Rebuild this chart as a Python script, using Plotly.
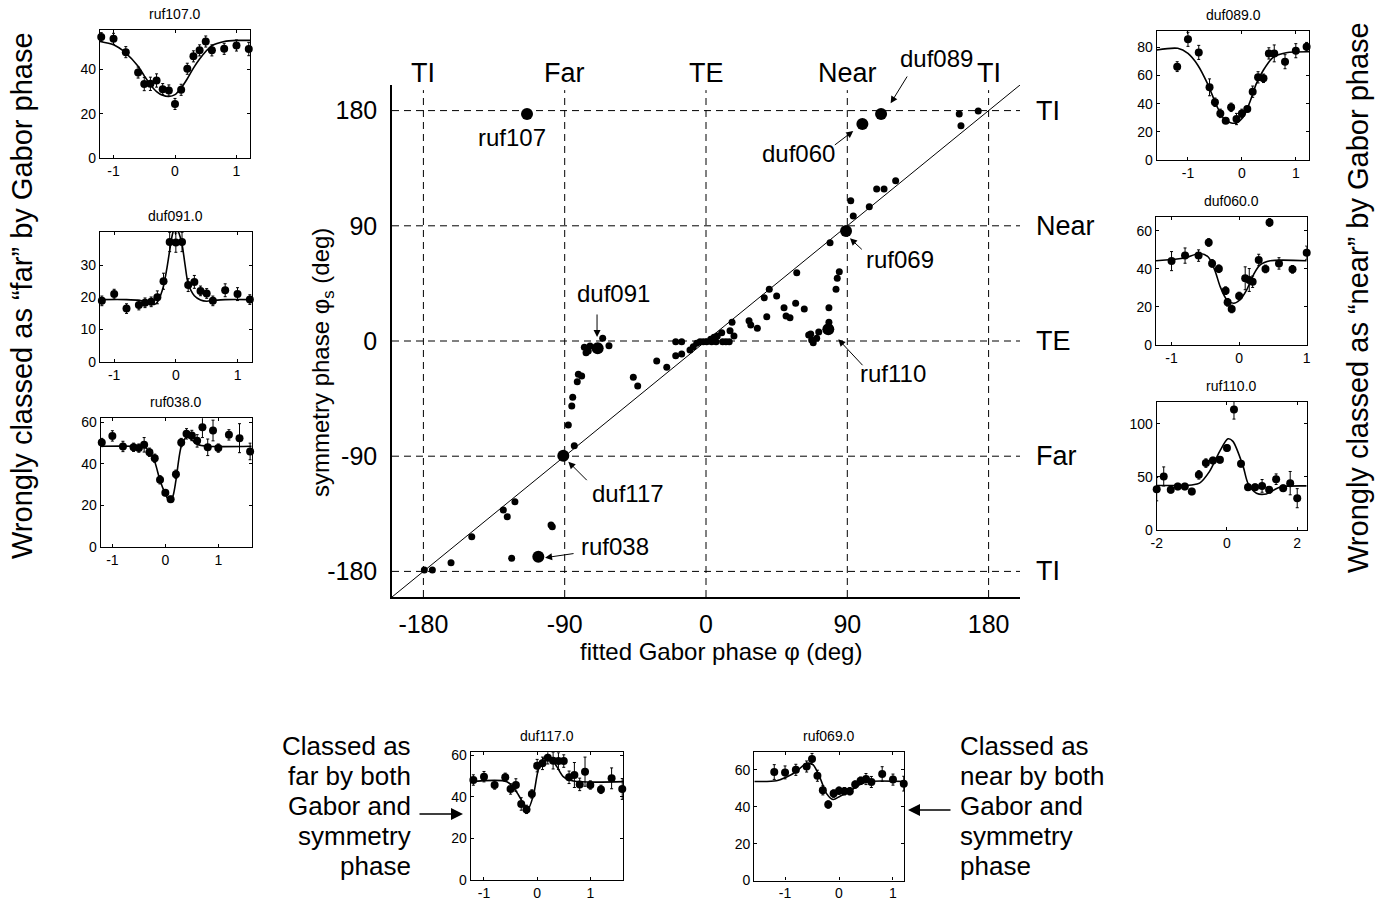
import plotly.graph_objects as go

W, H = 1387, 901
FONT = "Liberation Sans, Arial, sans-serif"

# ---------------- main scatter: symmetry phase vs fitted Gabor phase ----------------
phase_ticks = [-180, -90, 0, 90, 180]
phase_ticktext = ["-180", "-90", "0", "90", "180"]
class_top = ["TI", "Far", "TE", "Near", "TI"]
class_right = ["TI", "Far", "TE", "Near", "TI"]

cell_x = [-179.4, -174.3, -162.4, -149.2, -129.1, -126.6, -121.7, -123.8, -98.7, -97.9,
          -83.9, -87.7, -85.5, -84.9, -82.0, -81.3, -79.2, -77.5, -76.4, -75.0, -73.9,
          -65.8, -61.8, -46.3, -43.5, -31.4, -25.0, -19.3, -15.5, -19.3, -15.5, -10.2,
          -8.1, -5.9, -3.8, -1.7, 0.4,
          3.0, 5.1, 7.2, 3.6, 6.4, 10.0, 10.6, 12.7, 14.8, 15.3, 17.8, 16.6, 27.4, 28.5,
          32.7, 38.7, 37.1, 40.3, 45.0, 49.7, 51.0, 53.5, 57.1, 57.8, 62.6, 65.4, 66.7,
          67.3, 68.3, 70.5, 71.8, 78.3, 78.3, 79.0, 82.8, 83.6, 84.9, 92.2, 93.8, 104.0,
          108.7, 113.4, 120.8, 161.3, 162.4, 173.4]
cell_y = [-178.9, -178.9, -173.2, -152.9, -132.0, -137.3, -125.5, -169.8, -143.8, -145.1,
          -81.8, -65.6, -50.8, -44.0, -31.8, -26.0, -27.3, -4.9, -9.1, -7.8, -3.9,
          2.1, -3.7, -28.4, -35.2, -15.6, -20.5, -0.5, -0.5, -11.5, -10.2, -7.0,
          -4.5, -1.8, -0.5, -0.5, -0.5,
          1.3, 2.9, 3.9, -0.5, -0.5, 6.5, -0.5, -0.5, -0.5, 8.0, 3.9, 14.6, 15.9, 12.5,
          9.9, 19.0, 33.8, 40.4, 35.2, 26.0, 19.5, 18.2, 29.5, 53.4, 25.0, 4.7, 5.5,
          0.8, -1.3, 2.1, 7.0, 26.0, 14.6, 76.8, 40.4, 49.0, 54.1, 109.6, 97.7, 104.9,
          118.8, 118.8, 125.2, 177.3, 168.2, 179.7]

named_cells = ["ruf107", "duf089", "duf060", "ruf069", "duf091", "ruf110", "duf117", "ruf038"]
named_x = [-114.0, 111.5, 99.6, 89.2, -69.0, 77.9, -90.9, -106.8]
named_y = [177.3, 177.3, 169.5, 85.9, -5.7, 9.1, -89.6, -168.5]

label_x = [-123.6, 146.5, 58.8, 123.6, -59.0, 119.1, -49.7, -58.0]
label_y = [158.6, 221.0, 146.6, 63.3, 37.3, -25.0, -118.8, -160.7]
tip_x = [None, 117.6, 93.8, 91.7, -69.4, 84.3, -87.7, -102.5]
tip_y = [None, 185.7, 164.1, 80.2, 3.1, 1.3, -94.3, -169.3]
tail_x = [None, 128.7, 81.1, 100.2, -69.4, 100.6, -75.0, -83.4]
tail_y = [None, 207.8, 152.3, 70.5, 21.9, -20.1, -109.9, -165.9]

# ---------------- inset panels: response vs stimulus position ----------------
grid19 = [-1.2, -1.0, -0.8, -0.6, -0.5, -0.4, -0.3, -0.2, -0.1, 0.0, 0.1, 0.2, 0.3, 0.4, 0.5,
          0.6, 0.8, 1.0, 1.2]
grid23 = [-1.2, -1.0, -0.8, -0.6, -0.5, -0.4, -0.3, -0.2, -0.1, 0.0, 0.1, 0.2, 0.3, 0.4, 0.5,
          0.6, 0.7, 0.8, 0.9, 1.0, 1.2, 1.4, 1.6]

ruf107_y = [54.6, 53.8, 47.8, 38.6, 33.4, 33.5, 35.0, 31.1, 30.5, 24.4, 30.8, 40.3, 45.9, 48.6,
            52.6, 48.6, 49.3, 50.8, 49.2]
ruf107_err = [2, 2.5, 2.5, 2.5, 3, 3, 3, 2.5, 2.5, 2.5, 2.5, 2.5, 2.5, 2.5, 2.5, 2.5, 2.5, 2.5, 3]
ruf107_fit_x = [-1.22, -1.0, -0.8, -0.6, -0.5, -0.4, -0.3, -0.2, -0.1, 0.0, 0.1, 0.2, 0.3, 0.4,
                0.5, 0.6, 0.8, 1.0, 1.22]
ruf107_fit_y = [52.6, 51.1, 47.4, 41.4, 37.1, 33.1, 30.0, 28.3, 27.8, 28.6, 31.6, 35.8, 40.6, 44.7,
                48.1, 50.7, 52.6, 53.1, 53.1]

duf091_y = [18.9, 21.0, 16.5, 17.6, 18.3, 18.6, 20.0, 25.0, 37.2, 37.0, 37.2, 23.8, 24.8, 22.0,
            21.2, 18.9, 22.2, 21.0, 19.3]
duf091_err = [1.5, 1.5, 1.5, 1.5, 1.5, 1.5, 2, 2.5, 3, 3, 3, 2, 2, 1.5, 1.5, 1.5, 2, 2, 1.5]
duf091_fit_x = [-1.23, -0.8, -0.6, -0.45, -0.35, -0.3, -0.25, -0.2, -0.15, -0.1, -0.05, 0.0, 0.05,
                0.1, 0.15, 0.2, 0.3, 0.4, 0.5, 0.6, 0.8, 1.23]
duf091_fit_y = [19.3, 19.3, 19.1, 18.5, 17.8, 18.5, 20.5, 23.5, 28.5, 34.5, 40.0, 42.0, 40.0,
                36.5, 30.0, 24.3, 20.5, 19.2, 18.8, 19.0, 19.3, 19.3]

ruf038_y = [50.3, 53.5, 48.4, 48.0, 47.6, 49.2, 45.6, 42.7, 32.3, 26.1, 22.9, 35.0, 50.3, 54.5,
            53.7, 51.1, 57.7, 48.0, 56.1, 47.6, 54.0, 52.4, 46.0]
ruf038_err = [2, 2.5, 2.5, 2, 2, 3.5, 2, 2, 2, 1.5, 1.5, 2, 2, 2.5, 2.5, 3, 5, 4, 5, 2, 2.5, 7, 4]
ruf038_fit_x = [-1.22, -0.6, -0.4, -0.3, -0.2, -0.1, 0.0, 0.05, 0.1, 0.15, 0.2, 0.3, 0.4, 0.5,
                0.6, 0.8, 1.63]
ruf038_fit_y = [48.5, 48.5, 48.2, 46.0, 41.0, 32.0, 25.5, 23.0, 22.5, 25.0, 32.0, 48.4, 53.0,
                51.6, 49.5, 48.5, 48.5]

duf089_y = [66.3, 85.7, 76.4, 51.6, 41.0, 33.1, 27.9, 37.4, 29.1, 33.1, 36.2, 48.5, 58.7, 58.0,
            75.7, 75.7, 69.8, 77.6, 80.5]
duf089_err = [3.5, 5, 5, 6, 3, 3, 2, 3, 4, 3, 2, 4, 4, 3, 4, 6, 5, 5, 3]
duf089_fit_x = [-1.58, -1.19, -1.0, -0.82, -0.64, -0.46, -0.34, -0.21, -0.09, 0.03, 0.15, 0.27,
                0.4, 0.58, 0.82, 1.25]
duf089_fit_y = [78.1, 79.3, 75.7, 67.5, 54.4, 37.9, 29.6, 26.5, 26.5, 30.8, 41.4, 54.4, 63.9,
                72.9, 76.2, 76.9]

duf060_x = [-1.0, -0.8, -0.6, -0.45, -0.4, -0.3, -0.2, -0.17, -0.11, 0.0, 0.09, 0.15, 0.2, 0.29,
            0.39, 0.45, 0.59, 0.79, 1.0]
duf060_y = [44.0, 46.9, 46.9, 53.8, 42.8, 40.0, 28.5, 22.4, 18.9, 25.7, 35.0, 34.1, 33.2, 44.6,
            39.9, 64.3, 42.8, 39.7, 48.4]
duf060_err = [5, 4, 3, 2, 2, 2, 2, 2, 2, 2, 6, 6, 3, 3, 2, 2, 3, 2, 3.5]
duf060_fit_x = [-1.23, -0.83, -0.58, -0.46, -0.36, -0.28, -0.18, -0.08, 0.01, 0.11, 0.21, 0.31,
                0.46, 1.0]
duf060_fit_y = [44.2, 45.5, 48.0, 46.3, 39.3, 30.6, 23.6, 21.9, 23.6, 28.8, 36.7, 42.0, 44.2, 44.2]

ruf110_x = [-2.0, -1.8, -1.6, -1.4, -1.2, -1.0, -0.8, -0.6, -0.4, -0.2, 0.0, 0.2, 0.4, 0.6, 0.8,
            1.0, 1.2, 1.4, 1.6, 1.8, 2.0]
ruf110_y = [38.5, 50.5, 37.9, 41.0, 41.0, 36.3, 52.0, 63.1, 65.6, 66.2, 77.3, 113.6, 62.5, 40.4,
            40.4, 41.6, 37.9, 47.9, 39.4, 44.2, 30.0]
ruf110_err = [11, 9, 3, 3, 3, 3, 4, 4, 3, 3, 3, 9, 3, 3, 3, 6, 3, 5, 3, 11, 9]
ruf110_fit_x = [-2.0, -1.2, -1.0, -0.78, -0.5, -0.21, 0.03, 0.17, 0.46, 0.6, 0.84, 1.12, 1.5, 2.27]
ruf110_fit_y = [42.0, 42.0, 42.5, 44.2, 55.0, 74.0, 86.0, 83.6, 60.0, 44.0, 34.7, 34.0, 40.4, 41.6]

duf117_y = [48.0, 49.6, 45.6, 49.3, 43.7, 45.6, 36.5, 33.9, 41.3, 54.9, 56.0, 58.7, 57.3, 57.1,
            57.1, 49.3, 50.4, 45.9, 52.0, 45.6, 43.5, 48.8, 43.7]
duf117_err = [2.5, 2.5, 2, 2, 2.5, 3, 3, 2, 2, 3, 3, 3, 4, 4, 3, 3, 6, 3, 7, 2, 2, 5, 5]
duf117_fit_x = [-1.25, -0.57, -0.39, -0.26, -0.17, -0.07, 0.02, 0.12, 0.24, 0.37, 0.49, 0.68, 1.62]
duf117_fit_y = [47.2, 47.2, 42.4, 36.8, 34.2, 40.8, 52.8, 58.4, 58.9, 54.4, 49.6, 47.5, 47.2]

ruf069_y = [58.8, 58.6, 60.0, 61.8, 65.9, 56.8, 48.9, 41.2, 47.1, 48.7, 48.4, 48.4, 52.0, 54.1,
            55.0, 53.4, 57.7, 54.7, 52.5]
ruf069_err = [4, 3.5, 3, 3, 3, 3, 2.5, 2, 2, 2, 2, 2, 2, 2, 3, 3, 4, 3, 4]
ruf069_fit_x = [-1.57, -1.16, -0.97, -0.79, -0.6, -0.48, -0.35, -0.23, -0.11, 0.02, 0.2, 0.39,
                0.57, 1.21]
ruf069_fit_y = [53.7, 54.1, 56.1, 59.1, 63.6, 62.7, 55.5, 47.1, 43.9, 45.7, 48.4, 52.0, 53.7, 53.7]

side_left = "Wrongly classed as “far” by Gabor phase"
side_right = "Wrongly classed as “near” by Gabor phase"
bottom_left_lines = ["Classed as", "far by both", "Gabor and", "symmetry", "phase"]
bottom_right_lines = ["Classed as", "near by both", "Gabor and", "symmetry", "phase"]

# ---------------- layout helpers (pixel boxes -> paper) ----------------
def px_x(p):
    return p / W


def px_y(p):
    return 1 - p / H


MAIN_BOX = (392, 1020, 85, 597)


def main_paper(xd, yd):
    x0, x1, y0, y1 = MAIN_BOX
    return (px_x(x0 + (xd + 200) / 400 * (x1 - x0)),
            px_y(y1 - (yd + 200) / 400 * (y1 - y0)))


def text_ann(x, y, text, size, xanchor="center", yanchor="middle", **kw):
    d = dict(x=x, y=y, xref="paper", yref="paper", text=text, showarrow=False,
             xanchor=xanchor, yanchor=yanchor, font=dict(size=size))
    d.update(kw)
    return d


fig = go.Figure()

for v in phase_ticks:
    fig.add_shape(type="line", xref="x", yref="y", x0=-200, x1=200, y0=v, y1=v,
                  line=dict(color="black", width=1, dash="7px,5px"))
    fig.add_shape(type="line", xref="x", yref="y", x0=v, x1=v, y0=-200, y1=196,
                  line=dict(color="black", width=1, dash="7px,5px"))

fig.add_trace(go.Scatter(x=[-200, 200], y=[-200, 200], mode="lines",
                         line=dict(color="black", width=1), xaxis="x", yaxis="y",
                         hoverinfo="skip"))
fig.add_trace(go.Scatter(x=cell_x, y=cell_y, mode="markers",
                         marker=dict(color="black", size=7), xaxis="x", yaxis="y"))
fig.add_trace(go.Scatter(x=named_x, y=named_y, mode="markers", text=named_cells,
                         marker=dict(color="black", size=12), xaxis="x", yaxis="y"))

annotations = []
for i, name in enumerate(named_cells):
    lx, ly = main_paper(label_x[i], label_y[i])
    annotations.append(text_ann(lx, ly, name, 24))
    if tip_x[i] is not None:
        annotations.append(dict(x=tip_x[i], y=tip_y[i], ax=tail_x[i], ay=tail_y[i],
                                xref="x", yref="y", axref="x", ayref="y", text="",
                                showarrow=True, arrowhead=2, arrowsize=1.4, arrowwidth=1,
                                arrowcolor="black", standoff=0, startstandoff=0))

for v, t in zip(phase_ticks, class_top):
    annotations.append(text_ann(main_paper(v, 0)[0], px_y(73), t, 27))
for v, t in zip(phase_ticks, class_right):
    annotations.append(text_ann(px_x(1034), main_paper(0, v)[1], t, 27, xanchor="left"))

annotations.append(text_ann(px_x(721), px_y(651), "fitted Gabor phase φ (deg)", 24))
annotations.append(text_ann(px_x(322), px_y(363), "symmetry phase φ<sub>s</sub> (deg)", 24,
                            textangle=-90))

annotations.append(text_ann(px_x(22), px_y(296), side_left, 29, textangle=-90))
annotations.append(text_ann(px_x(1358), px_y(298), side_right, 29, textangle=-90))

for j, line in enumerate(bottom_left_lines):
    annotations.append(text_ann(px_x(413), px_y(746 + 30 * j), line, 26, xanchor="right"))
for j, line in enumerate(bottom_right_lines):
    annotations.append(text_ann(px_x(958), px_y(746 + 30 * j), line, 26, xanchor="left"))
annotations.append(dict(x=px_x(463), y=px_y(814), ax=-45, ay=0, xref="paper",
                        yref="paper", axref="pixel", ayref="pixel", text="", showarrow=True,
                        arrowhead=2, arrowsize=1.6, arrowwidth=1.5, arrowcolor="black",
                        standoff=0))
annotations.append(dict(x=px_x(908), y=px_y(810), ax=44, ay=0, xref="paper",
                        yref="paper", axref="pixel", ayref="pixel", text="", showarrow=True,
                        arrowhead=2, arrowsize=1.6, arrowwidth=1.5, arrowcolor="black",
                        standoff=0))

# insets
panels = [
    ("ruf107.0", grid19, ruf107_y, ruf107_err, ruf107_fit_x, ruf107_fit_y,
     (100, 250, 30, 158), [-1.22, 1.22], [0, 57.8], [0, 20, 40], [-1, 0, 1]),
    ("duf091.0", grid19, duf091_y, duf091_err, duf091_fit_x, duf091_fit_y,
     (100, 251.7, 232, 361.7), [-1.23, 1.23], [0, 40.3], [0, 10, 20, 30], [-1, 0, 1]),
    ("ruf038.0", grid23, ruf038_y, ruf038_err, ruf038_fit_x, ruf038_fit_y,
     (100.7, 251.7, 418.3, 546.7), [-1.22, 1.63], [0, 62], [0, 20, 40, 60], [-1, 0, 1]),
    ("duf089.0", grid19, duf089_y, duf089_err, duf089_fit_x, duf089_fit_y,
     (1156.7, 1309.3, 31, 160), [-1.58, 1.25], [0, 91.6], [0, 20, 40, 60, 80], [-1, 0, 1]),
    ("duf060.0", duf060_x, duf060_y, duf060_err, duf060_fit_x, duf060_fit_y,
     (1156, 1306.7, 216.7, 345), [-1.23, 1.0], [0, 67.3], [0, 20, 40, 60], [-1, 0, 1]),
    ("ruf110.0", ruf110_x, ruf110_y, ruf110_err, ruf110_fit_x, ruf110_fit_y,
     (1156.7, 1306.7, 401.7, 530), [-2.0, 2.27], [0, 121], [0, 50, 100], [-2, 0, 2]),
    ("duf117.0", grid23, duf117_y, duf117_err, duf117_fit_x, duf117_fit_y,
     (470.7, 623.3, 752.3, 880), [-1.25, 1.62], [0, 61.3], [0, 20, 40, 60], [-1, 0, 1]),
    ("ruf069.0", grid19, ruf069_y, ruf069_err, ruf069_fit_x, ruf069_fit_y,
     (754.3, 904.3, 752.3, 880.5), [-1.57, 1.21], [0, 69.5], [0, 20, 40, 60], [-1, 0, 1]),
]

layout_axes = {}
for k, (title, xs, ys, err, fx, fy, box, xr, yr, yt, xt) in enumerate(panels):
    n = k + 2
    xa, ya = f"x{n}", f"y{n}"
    fig.add_trace(go.Scatter(x=fx, y=fy, mode="lines", line=dict(color="black", width=1.6,
                             shape="spline", smoothing=0.8), xaxis=xa, yaxis=ya,
                             hoverinfo="skip"))
    fig.add_trace(go.Scatter(x=xs, y=ys, mode="markers", marker=dict(color="black", size=8),
                             error_y=dict(type="data", array=err, color="black", thickness=1,
                                          width=1.5),
                             xaxis=xa, yaxis=ya, cliponaxis=False))
    x0, x1, y0, y1 = box
    common = dict(showgrid=False, zeroline=False, showline=True, linecolor="black",
                  linewidth=1.2, mirror="allticks", ticks="inside", ticklen=3,
                  tickcolor="black", tickfont=dict(size=14))
    layout_axes[f"xaxis{n}"] = dict(domain=[px_x(x0), px_x(x1)], range=xr, anchor=ya,
                                    tickvals=xt, ticktext=[str(v) for v in xt],
                                    ticklabelstandoff=0, **common)
    layout_axes[f"yaxis{n}"] = dict(domain=[px_y(y1), px_y(y0)], range=yr, anchor=xa,
                                    tickvals=yt, ticktext=[str(v) for v in yt], **common)
    annotations.append(text_ann(px_x((x0 + x1) / 2), px_y(y0 - 16), title, 14))

fig.update_layout(
    width=W, height=H, margin=dict(l=0, r=0, t=0, b=0, autoexpand=False),
    paper_bgcolor="white", plot_bgcolor="white", showlegend=False,
    font=dict(family=FONT, color="black"),
    xaxis=dict(domain=[px_x(MAIN_BOX[0]), px_x(MAIN_BOX[1])], range=[-200, 200],
               tickvals=phase_ticks, ticktext=phase_ticktext, tickfont=dict(size=25),
               showgrid=False, zeroline=False, showline=True, linecolor="black",
               linewidth=1.5, ticks="", anchor="y", ticklabelstandoff=4),
    yaxis=dict(domain=[px_y(MAIN_BOX[3]), px_y(MAIN_BOX[2])], range=[-200, 200],
               tickvals=phase_ticks, ticktext=phase_ticktext, tickfont=dict(size=25),
               showgrid=False, zeroline=False, showline=True, linecolor="black",
               linewidth=1.5, ticks="", anchor="x", ticklabelstandoff=8),
    annotations=annotations,
    **layout_axes,
)

fig.write_html("out.html", config={"displayModeBar": False},
               post_script="document.body.style.margin='0px';"
                           "document.body.style.overflow='hidden';")
